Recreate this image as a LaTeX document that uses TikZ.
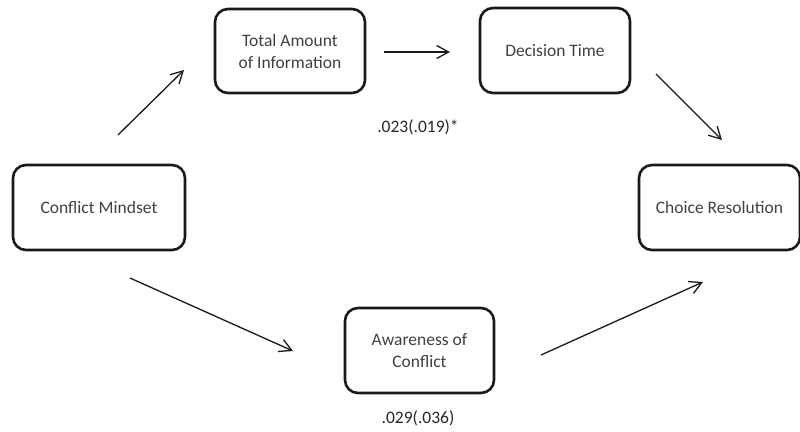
\documentclass[tikz,border=0pt]{standalone}
\usepackage{fontspec}
\setmainfont{Carlito}
\usetikzlibrary{arrows.meta}
\begin{document}
\begin{tikzpicture}[x=1pt,y=-1pt,
  box/.style={draw=black!90, line width=2.6pt, rounded corners=13pt, align=center,
    font=\fontsize{17.5}{22}\selectfont, inner sep=0pt, text=black!75},
  link/.style={-{Straight Barb[length=12pt,width=13pt]}, line width=1.3pt, draw=black!90},
  lab/.style={font=\fontsize{17.5}{22}\selectfont, text=black!85, inner sep=0pt}]
\useasboundingbox (0,0) rectangle (800,431);
\node[box, minimum width=150pt, minimum height=84pt] (tai) at (290,51) {Total Amount\\of Information};
\node[box, minimum width=150pt, minimum height=85pt] (dt) at (555,50.5) {Decision Time};
\node[box, minimum width=172pt, minimum height=85pt] (cm) at (99,207.5) {Conflict Mindset};
\node[box, minimum width=161pt, minimum height=85pt] (cr) at (719.5,207.5) {Choice Resolution};
\node[box, minimum width=149pt, minimum height=85pt] (ac) at (419.5,350.5) {Awareness of\\Conflict};
\node[lab] (l1) at (418,127) {.023(.019)*};
\node[lab] (l2) at (418,418) {.029(.036)};
\coordinate (a1s) at (118,135); \coordinate (a1e) at (184,70);
\coordinate (a2s) at (384,52);  \coordinate (a2e) at (450,52);
\coordinate (a3s) at (656,74);  \coordinate (a3e) at (722,140);
\coordinate (a4s) at (130,278); \coordinate (a4e) at (293,351);
\coordinate (a5s) at (541,355); \coordinate (a5e) at (703,282);
\draw[link] (a1s) -- (a1e);
\draw[link] (a2s) -- (a2e);
\draw[link] (a3s) -- (a3e);
\draw[link] (a4s) -- (a4e);
\draw[link] (a5s) -- (a5e);
\end{tikzpicture}
\end{document}
